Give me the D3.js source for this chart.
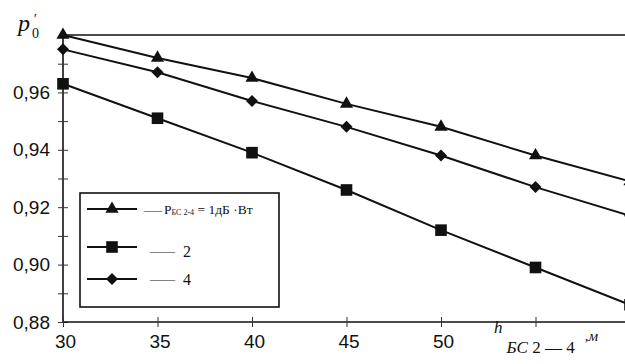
<!DOCTYPE html>
<html>
<head>
<meta charset="utf-8">
<script src="https://cdn.jsdelivr.net/npm/d3@7"></script>
<style>
  body { margin: 0; background: #fff; }
  svg { display: block; overflow: hidden; }
  .tick text { font-family: 'Liberation Sans', Arial, sans-serif; font-size: 19px; fill: #111; }
  .serif { font-family: 'Liberation Serif', 'Times New Roman', serif; fill: #111; }
</style>
</head>
<body>
<script>
// Data
var heights = [30, 35, 40, 45, 50, 55, 60]
var power1 = [0.980, 0.972, 0.965, 0.956, 0.948, 0.938, 0.929]
var power2 = [0.963, 0.951, 0.939, 0.926, 0.912, 0.899, 0.886]
var power4 = [0.975, 0.967, 0.957, 0.948, 0.938, 0.927, 0.917]
var xTicks = [30, 35, 40, 45, 50, 55]
var xTickLabels = ['30', '35', '40', '45', '50', '']
var yMajor = [0.88, 0.90, 0.92, 0.94, 0.96]
var yMinor = [0.89, 0.91, 0.93, 0.95, 0.97]

var series = [
  { name: '1', values: power1, symbol: d3.symbolTriangle, size: 75, rot: 0 },
  { name: '2', values: power2, symbol: d3.symbolSquare, size: 135, rot: 0 },
  { name: '4', values: power4, symbol: d3.symbolSquare, size: 72, rot: 45 }
]

var W = 625, H = 364
var margin = { top: 35, left: 63 }
var w = 567, h = 287

var svg = d3.select('body').append('svg')
    .attr('width', W)
    .attr('height', H)
var g = svg.append('g')
    .attr('transform', 'translate(' + margin.left + ',' + margin.top + ')')

// Scales
var xScale = d3.scaleLinear().domain([30, 60]).range([0, w])
var yScale = d3.scaleLinear().domain([0.88, 0.98]).range([h, 0])

// Top frame line
g.append('line')
    .attr('x1', 0).attr('x2', W)
    .attr('y1', yScale(0.98)).attr('y2', yScale(0.98))
    .attr('stroke', '#111').attr('stroke-width', 1.6)

// Y-axis (major)
var yAxis = d3.axisLeft(yScale)
    .tickValues(yMajor)
    .tickFormat(function (d) { return d3.format('.2f')(d).replace('.', ',') })
    .tickSizeInner(5)
    .tickSizeOuter(0)
    .tickPadding(8)
var yg = g.append('g').call(yAxis)
yg.selectAll('.tick line').attr('x1', 5).attr('stroke', '#333')
yg.select('.domain').attr('stroke', '#111').attr('stroke-width', 1.6)
    .attr('d', 'M0,' + h + 'V0')

// Y-axis (minor)
var yMinorAxis = d3.axisLeft(yScale)
    .tickValues(yMinor)
    .tickFormat('')
    .tickSizeInner(5)
    .tickSizeOuter(0)
var ymg = g.append('g').call(yMinorAxis)
ymg.select('.domain').remove()
ymg.selectAll('.tick line').attr('x1', 5).attr('stroke', '#333')

// X-axis
var xAxis = d3.axisBottom(xScale)
    .tickValues(xTicks)
    .tickFormat(function (d, i) { return xTickLabels[i] })
    .tickSizeInner(5)
    .tickSizeOuter(0)
    .tickPadding(8)
var xg = g.append('g')
    .attr('transform', 'translate(0,' + h + ')')
    .call(xAxis)
xg.selectAll('.tick line').attr('y1', -5).attr('stroke', '#333')
xg.selectAll('.tick text').attr('dx', 2)
xg.select('.domain').attr('stroke', '#111').attr('stroke-width', 1.6)
    .attr('d', 'M0,0H' + (W - margin.left))

// Lines
var line = d3.line()
    .x(function (d, i) { return xScale(heights[i]) })
    .y(function (d) { return yScale(d) })

series.forEach(function (s) {
  g.append('path')
      .datum(s.values)
      .attr('fill', 'none')
      .attr('stroke', '#111')
      .attr('stroke-width', 2)
      .attr('d', line)
  g.selectAll(null)
      .data(s.values)
      .enter()
    .append('path')
      .attr('d', d3.symbol().type(s.symbol).size(s.size))
      .attr('transform', function (d, i) {
        return 'translate(' + xScale(heights[i]) + ',' + yScale(d) + ') rotate(' + s.rot + ')'
      })
      .attr('fill', '#111')
})

// Legend
var legend = svg.append('g')
legend.append('rect')
    .attr('x', 80).attr('y', 193)
    .attr('width', 199).attr('height', 114)
    .attr('fill', '#fff')
    .attr('stroke', '#111').attr('stroke-width', 1.6)

var rows = [209, 247, 279]
series.forEach(function (s, i) {
  legend.append('line')
      .attr('x1', 87).attr('x2', 137)
      .attr('y1', rows[i]).attr('y2', rows[i])
      .attr('stroke', '#111').attr('stroke-width', 2)
  legend.append('path')
      .attr('d', d3.symbol().type(s.symbol).size(s.size))
      .attr('transform', 'translate(112,' + rows[i] + ') rotate(' + s.rot + ')')
      .attr('fill', '#111')
})

// Row 1 text
legend.append('text').attr('class', 'serif')
    .attr('x', 144).attr('y', 214)
    .attr('font-size', 13.5)
    .attr('textLength', 18).attr('lengthAdjust', 'spacingAndGlyphs')
    .text('—')
var t1 = legend.append('text').attr('class', 'serif')
    .attr('x', 164).attr('y', 214)
    .attr('font-size', 13.5)
t1.append('tspan').text('P')
t1.append('tspan').attr('font-size', 8).attr('dy', 1).text('БС 2-4')
t1.append('tspan').attr('dy', -1).text(' = 1дБ ·Вт')

// Rows 2, 3 text
var rowText = [[257, '2'], [285, '4']]
rowText.forEach(function (r) {
  legend.append('text').attr('class', 'serif')
      .attr('x', 150).attr('y', r[0] - 1)
      .attr('font-size', 15)
      .attr('textLength', 25).attr('lengthAdjust', 'spacingAndGlyphs')
      .text('—')
  legend.append('text').attr('class', 'serif')
      .attr('x', 183).attr('y', r[0])
      .attr('font-size', 16)
      .text(r[1])
})

// Y-axis title p'_0
var pt = svg.append('text').attr('class', 'serif')
    .attr('x', 18).attr('y', 31)
pt.append('tspan').attr('font-size', 24).attr('font-style', 'italic').text('p')
pt.append('tspan').attr('font-size', 14).attr('font-style', 'italic')
    .attr('dx', 3).attr('dy', -7).text('′')
pt.append('tspan').attr('font-size', 14)
    .attr('dx', -4).attr('dy', 14).text('0')

// X-axis title h_БС 2-4, м
var xt = svg.append('text').attr('class', 'serif')
    .attr('x', 494).attr('y', 333)
xt.append('tspan').attr('font-size', 17).attr('font-style', 'italic').text('h')
xt.append('tspan').attr('font-size', 17).attr('font-style', 'italic')
    .attr('dx', 4).attr('dy', 20).text('БС')
xt.append('tspan').attr('font-size', 17).text(' 2 — 4')
xt.append('tspan').attr('font-size', 15).attr('font-style', 'italic')
    .attr('dx', 10).attr('dy', -12).text(',м')
</script>
</body>
</html>
